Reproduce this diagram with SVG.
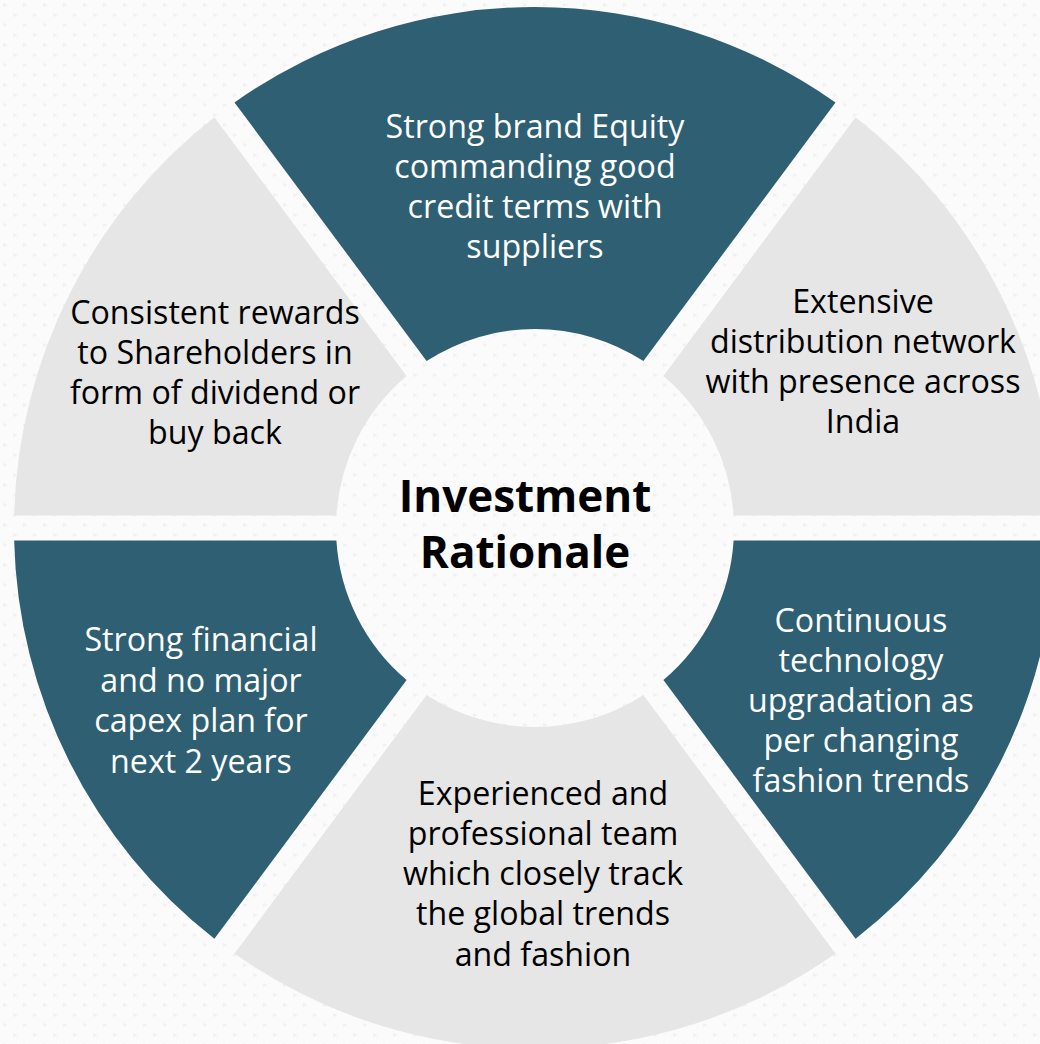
<svg xmlns="http://www.w3.org/2000/svg" width="1040" height="1044" viewBox="0 0 1040 1044">
  <style>
    .dark { fill: #2E5F72; }
    .light { fill: #E6E6E6; }
    text { font-family: "Open Sans", "Liberation Sans", sans-serif; font-size: 32.2px; text-anchor: middle; }
    .w { fill: #FFFFFF; }
    .b { fill: #000000; }
    .title { font-size: 44px; font-weight: bold; fill: #000000; }
  </style>
  <defs>
    <pattern id="tex" x="0" y="0" width="20" height="20" patternUnits="userSpaceOnUse">
      <rect width="20" height="20" fill="#FBFBFB"/>
      <path d="M3 3 L8 5 L3 7 Z" fill="#F1F1F1"/>
      <path d="M13 13 L18 15 L13 17 Z" fill="#F1F1F1"/>
    </pattern>
  </defs>
  <rect width="1040" height="1044" fill="url(#tex)"/>

  <g id="node-top">
    <path class="dark" d="M426.6,361.1 L234.5,102.4 A521,521 0 0 1 835.5,102.4 L643.4,361.1 A199,199 0 0 0 426.6,361.1 Z"/>
    <text class="w"><tspan x="535" y="138">Strong brand Equity</tspan><tspan x="535" y="178">commanding good</tspan><tspan x="535" y="218">credit terms with</tspan><tspan x="535" y="258">suppliers</tspan></text>
  </g>

  <g id="node-top-right">
    <path class="light" d="M663.4,376.0 L855.6,117.3 A521,521 0 0 1 1055.85,515.5 L733.6,515.5 A199,199 0 0 0 663.4,376.0 Z"/>
    <text class="b"><tspan x="863" y="313">Extensive</tspan><tspan x="863" y="353">distribution network</tspan><tspan x="863" y="393">with presence across</tspan><tspan x="863" y="433">India</tspan></text>
  </g>

  <g id="node-bottom-right">
    <path class="dark" d="M733.6,540.5 L1055.85,540.5 A521,521 0 0 1 855.6,938.7 L663.4,680.0 A199,199 0 0 0 733.6,540.5 Z"/>
    <text class="w"><tspan x="861" y="632">Continuous</tspan><tspan x="861" y="672">technology</tspan><tspan x="861" y="712">upgradation as</tspan><tspan x="861" y="752">per changing</tspan><tspan x="861" y="792">fashion trends</tspan></text>
  </g>

  <g id="node-bottom">
    <path class="light" d="M643.4,694.9 L835.5,953.6 A521,521 0 0 1 234.5,953.6 L426.6,694.9 A199,199 0 0 0 643.4,694.9 Z"/>
    <text class="b"><tspan x="543" y="805">Experienced and</tspan><tspan x="543" y="845">professional team</tspan><tspan x="543" y="885">which closely track</tspan><tspan x="543" y="925">the global trends</tspan><tspan x="543" y="966">and fashion</tspan></text>
  </g>

  <g id="node-bottom-left">
    <path class="dark" d="M406.6,680.0 L214.4,938.7 A521,521 0 0 1 14.15,540.5 L336.4,540.5 A199,199 0 0 0 406.6,680.0 Z"/>
    <text class="w"><tspan x="201" y="651">Strong financial</tspan><tspan x="201" y="692">and no major</tspan><tspan x="201" y="732">capex plan for</tspan><tspan x="201" y="773">next 2 years</tspan></text>
  </g>

  <g id="node-top-left">
    <path class="light" d="M336.4,515.5 L14.15,515.5 A521,521 0 0 1 214.4,117.3 L406.6,376.0 A199,199 0 0 0 336.4,515.5 Z"/>
    <text class="b"><tspan x="215" y="324">Consistent rewards</tspan><tspan x="215" y="364">to Shareholders in</tspan><tspan x="215" y="404">form of dividend or</tspan><tspan x="215" y="444">buy back</tspan></text>
  </g>

  <g id="node-center">
    <text class="title"><tspan x="525" y="512">Investment</tspan><tspan x="525" y="568">Rationale</tspan></text>
  </g>

  <g id="connectors"></g>
</svg>
